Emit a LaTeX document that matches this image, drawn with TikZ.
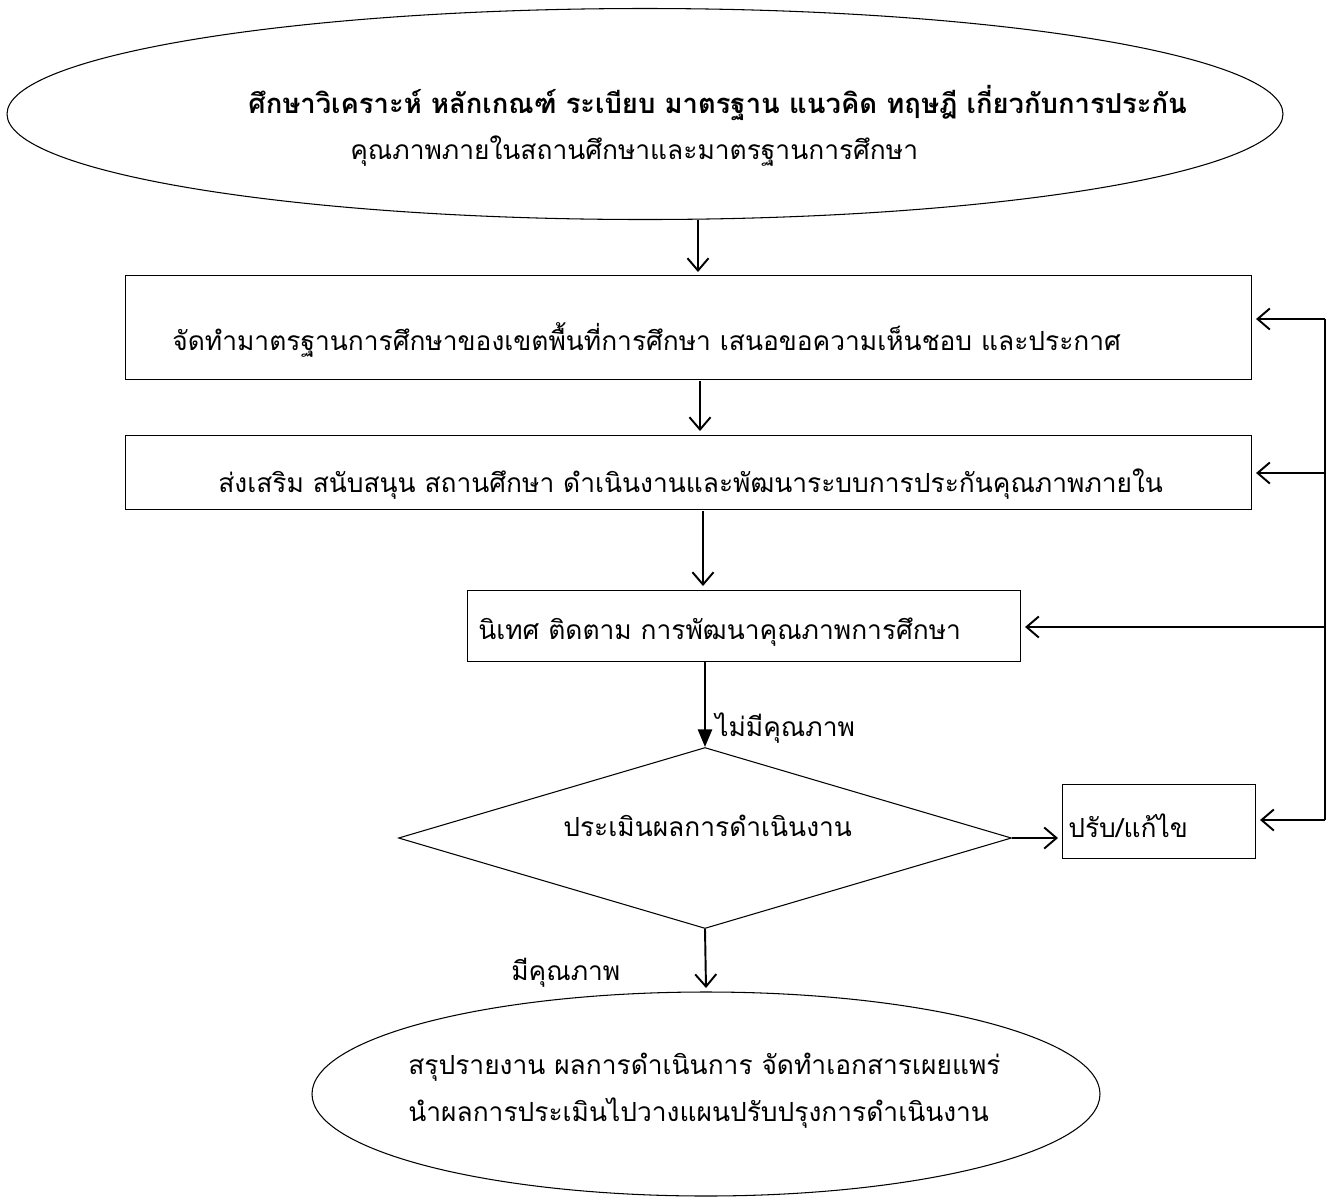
\documentclass[tikz,border=0pt]{standalone}
\usepackage{fontspec}
\newfontfamily\thaifont[Script=Thai]{Loma}
\usetikzlibrary{shapes.geometric,arrows.meta}
\begin{document}
\begin{tikzpicture}[x=0.02cm,y=-0.02cm,
  shape box/.style={draw,line width=0.6pt,rectangle,inner sep=0pt,anchor=north west},
  oval/.style={draw,line width=0.6pt,ellipse,inner sep=0pt},
  label text/.style={font=\thaifont\fontsize{15}{18}\selectfont,inner sep=0pt,anchor=west},
  openarrow/.style={line width=1.1pt,-{Straight Barb[length=7pt,width=12pt,line width=1.1pt]}},
  fillarrow/.style={line width=1.3pt,-{Triangle[length=10pt,width=8pt]}},
  plain/.style={line width=1.1pt}]
\useasboundingbox (0,0) rectangle (1333,1198);
% shapes
\node[oval,minimum width=1276*0.02cm,minimum height=211*0.02cm] (e1) at (645,114) {};
\node[shape box,minimum width=1126*0.02cm,minimum height=104*0.02cm] (b1) at (125,275) {};
\node[shape box,minimum width=1126*0.02cm,minimum height=74*0.02cm] (b2) at (125,435) {};
\node[shape box,minimum width=553*0.02cm,minimum height=71*0.02cm] (b3) at (467,590) {};
\node[draw,line width=0.6pt,diamond,inner sep=0pt,minimum width=613*0.02cm,minimum height=181*0.02cm,aspect=3.4] (d1) at (705,838) {};
\node[shape box,minimum width=193*0.02cm,minimum height=74*0.02cm] (b4) at (1062,784) {};
\node[oval,minimum width=788*0.02cm,minimum height=204*0.02cm] (e2) at (706,1094) {};
% texts
\node[label text,font=\thaifont\bfseries\fontsize{15.6}{18}\selectfont] (t1a) at (248,103) {ศึกษาวิเคราะห์ หลักเกณฑ์ ระเบียบ มาตรฐาน แนวคิด ทฤษฎี เกี่ยวกับการประกัน};
\node[label text] (t1b) at (350,151) {คุณภาพภายในสถานศึกษาและมาตรฐานการศึกษา};
\node[label text] (t2) at (172,340) {จัดทำมาตรฐานการศึกษาของเขตพื้นที่การศึกษา เสนอขอความเห็นชอบ และประกาศ};
\node[label text] (t3) at (218,484) {ส่งเสริม สนับสนุน สถานศึกษา ดำเนินงานและพัฒนาระบบการประกันคุณภาพภายใน};
\node[label text] (t4) at (478,632) {นิเทศ ติดตาม การพัฒนาคุณภาพการศึกษา};
\node[label text] (t5) at (715,728) {ไม่มีคุณภาพ};
\node[label text] (t6) at (563,826) {ประเมินผลการดำเนินงาน};
\node[label text] (t7) at (1068,826) {ปรับ/แก้ไข};
\node[label text] (t8) at (511,973) {มีคุณภาพ};
\node[label text] (t9) at (408,1067) {สรุปรายงาน ผลการดำเนินการ จัดทำเอกสารเผยแพร่};
\node[label text] (t10) at (408,1113) {นำผลการประเมินไปวางแผนปรับปรุงการดำเนินงาน};
% connectors
\draw[openarrow,line width=0.9pt] (e1.south -| 698,0) -- (698,272);
\draw[openarrow] (700,381) -- (700,431);
\draw[openarrow] (703,511) -- (703,586);
\draw[fillarrow] (b3.south -| d1.north) -- (d1.north);
\draw[openarrow] (d1.east) -- ([xshift=-4*0.02cm]b4.west |- d1.east);
\draw[openarrow] (d1.south) -- (706,988);
\coordinate (r1) at (1325,319);
\coordinate (r2) at (1325,473);
\coordinate (r3) at (1325,627);
\coordinate (r4) at (1325,820);
\draw[plain] (r1) -- (r4);
\draw[openarrow] (r1) -- ([xshift=4*0.02cm]b1.east |- r1);
\draw[openarrow] (r2) -- ([xshift=4*0.02cm]b2.east |- r2);
\draw[openarrow] (r3) -- ([xshift=4*0.02cm]b3.east |- r3);
\draw[openarrow] (r4) -- ([xshift=4*0.02cm]b4.east |- r4);
\end{tikzpicture}
\end{document}
